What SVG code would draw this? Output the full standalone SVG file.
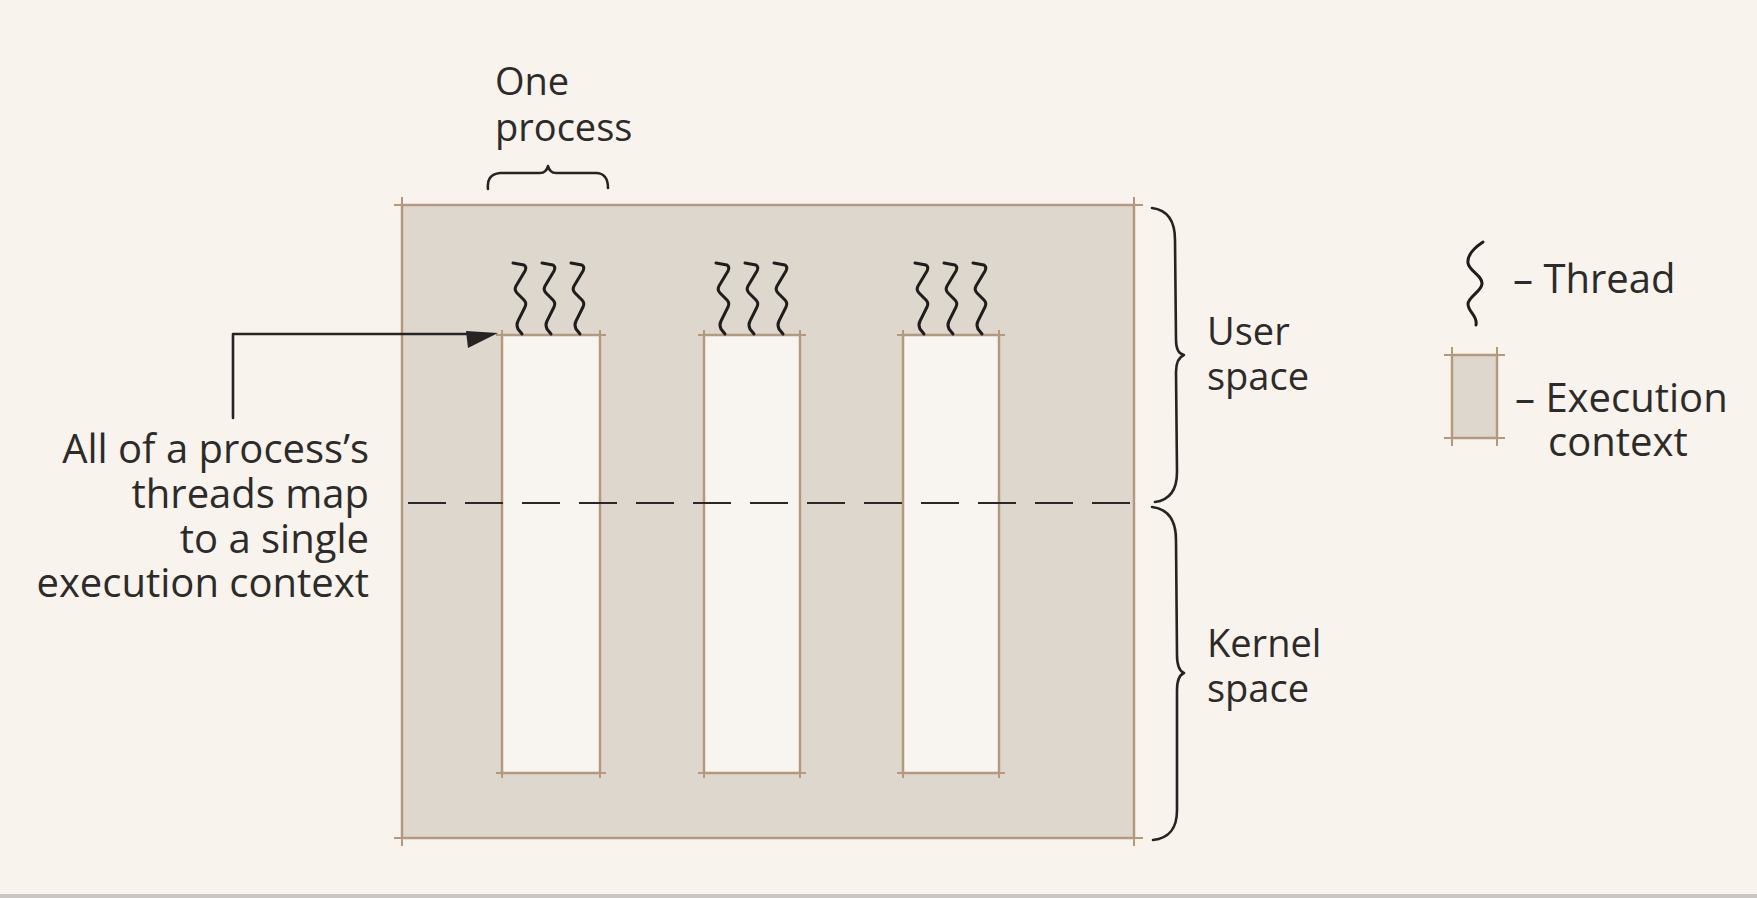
<svg xmlns="http://www.w3.org/2000/svg" width="1757" height="898" viewBox="0 0 1757 898">
  <style>
    .lbl { font-family: "Open Sans", "Noto Sans", "Liberation Sans", sans-serif; font-size: 38px; fill: #2d2b29; }
    .big { font-size: 40px; }
    .ctx { fill: #ded7ce; stroke: #b39a7e; stroke-width: 2.5; }
    .slot { fill: #f8f4ef; stroke: #b39a7e; stroke-width: 2.5; }
    .tick { stroke: #b39a7e; stroke-width: 2; fill: none; }
    .ink { stroke: #262422; stroke-width: 2.6; fill: none; stroke-linecap: round; stroke-linejoin: round; }
    .thread { stroke: #1f1d1c; stroke-width: 3; fill: none; stroke-linecap: round; stroke-linejoin: round; }
  </style>
  <defs>
    <!-- one zigzag thread glyph, origin at its top-left end -->
    <path id="thr" d="M0,0 L11,2 Q14,4 12,8 L3,23 Q1,27 4,30 L11,37 Q14,40 12,44 L5,58 Q3,62 5,66 L9,71"/>
    <!-- three threads of one process -->
    <g id="trio" class="thread">
      <use href="#thr"/>
      <use href="#thr" x="29"/>
      <use href="#thr" x="58"/>
    </g>
  </defs>

  <!-- paper -->
  <rect x="0" y="0" width="1757" height="898" fill="#f8f3ed"/>
  <rect x="0" y="894" width="1757" height="4" fill="#c9c7c4"/>

  <!-- address space: one large execution context area -->
  <g id="address-space">
    <rect class="ctx" x="402" y="205" width="732" height="633"/>
    <path class="tick" d="M394,205 H1143 M394,838 H1143 M402,197 V846 M1134,197 V846"/>
  </g>

  <!-- processes: each a single execution context with three threads -->
  <g id="process-1">
    <rect class="slot" x="502" y="335" width="98" height="438"/>
    <path class="tick" d="M496,335 H606 M496,773 H606 M502,330 V778 M600,330 V778"/>
    <use href="#trio" x="513" y="263"/>
  </g>
  <g id="process-2">
    <rect class="slot" x="704" y="335" width="96" height="438"/>
    <path class="tick" d="M698,335 H806 M698,773 H806 M704,330 V778 M800,330 V778"/>
    <use href="#trio" x="716" y="263"/>
  </g>
  <g id="process-3">
    <rect class="slot" x="903" y="335" width="96" height="438"/>
    <path class="tick" d="M897,335 H1005 M897,773 H1005 M903,330 V778 M999,330 V778"/>
    <use href="#trio" x="915" y="263"/>
  </g>

  <!-- user / kernel boundary -->
  <g id="boundary">
    <line x1="408" y1="503" x2="1135" y2="503" stroke="#2a2827" stroke-width="2.2" stroke-dasharray="38 19"/>
  </g>

  <!-- "One process" label -->
  <g id="one-process">
    <text class="lbl" x="495" y="95">One</text>
    <text class="lbl" x="495" y="141">process</text>
    <path class="ink" d="M488,189 C487,180 490,174 500,173 L540,173 C545,173 547,170 548,166 C549,170 551,173 556,173 L596,173 C604,173 608,179 608,188"/>
  </g>

  <!-- user space brace -->
  <g id="user-space">
    <path class="ink" d="M1152,208 C1168,210 1175,222 1175,240 L1176,340 C1176,350 1179,354 1184,355 C1179,357 1176,362 1176,372 L1177,472 C1177,490 1170,500 1155,502"/>
    <text class="lbl" x="1207" y="345">User</text>
    <text class="lbl" x="1207" y="390">space</text>
  </g>

  <!-- kernel space brace -->
  <g id="kernel-space">
    <path class="ink" d="M1152,507 C1168,509 1176,520 1176,540 L1177,655 C1177,666 1179,671 1184,673 C1179,675 1177,680 1177,690 L1177,810 C1177,828 1170,838 1153,840"/>
    <text class="lbl" x="1207" y="657">Kernel</text>
    <text class="lbl" x="1207" y="702">space</text>
  </g>

  <!-- annotation -->
  <g id="note">
    <text class="lbl big" text-anchor="end" x="369" y="463">All of a process’s</text>
    <text class="lbl big" text-anchor="end" x="369" y="508">threads map</text>
    <text class="lbl big" text-anchor="end" x="369" y="553">to a single</text>
    <text class="lbl big" text-anchor="end" x="369" y="597">execution context</text>
  </g>

  <!-- connector from annotation to the first execution context -->
  <g id="connectors">
    <path class="ink" stroke-linecap="butt" d="M233,418 V334 H470"/>
    <polygon points="466,331 498,333 468,348" fill="#262422"/>
  </g>

  <!-- legend -->
  <g id="legend-thread">
    <path class="thread" d="M1483,242 C1474,248 1467,255 1468,263 C1469,271 1483,276 1482,284 C1481,292 1468,297 1468,304 C1468,312 1478,316 1476,325"/>
    <text class="lbl big" x="1513" y="293">– Thread</text>
  </g>
  <g id="legend-context">
    <rect class="ctx" x="1452" y="355" width="45" height="83"/>
    <path class="tick" d="M1444,355 H1505 M1444,438 H1505 M1452,347 V446 M1497,347 V446"/>
    <text class="lbl big" x="1515" y="412">– Execution</text>
    <text class="lbl big" x="1548" y="456">context</text>
  </g>
</svg>
